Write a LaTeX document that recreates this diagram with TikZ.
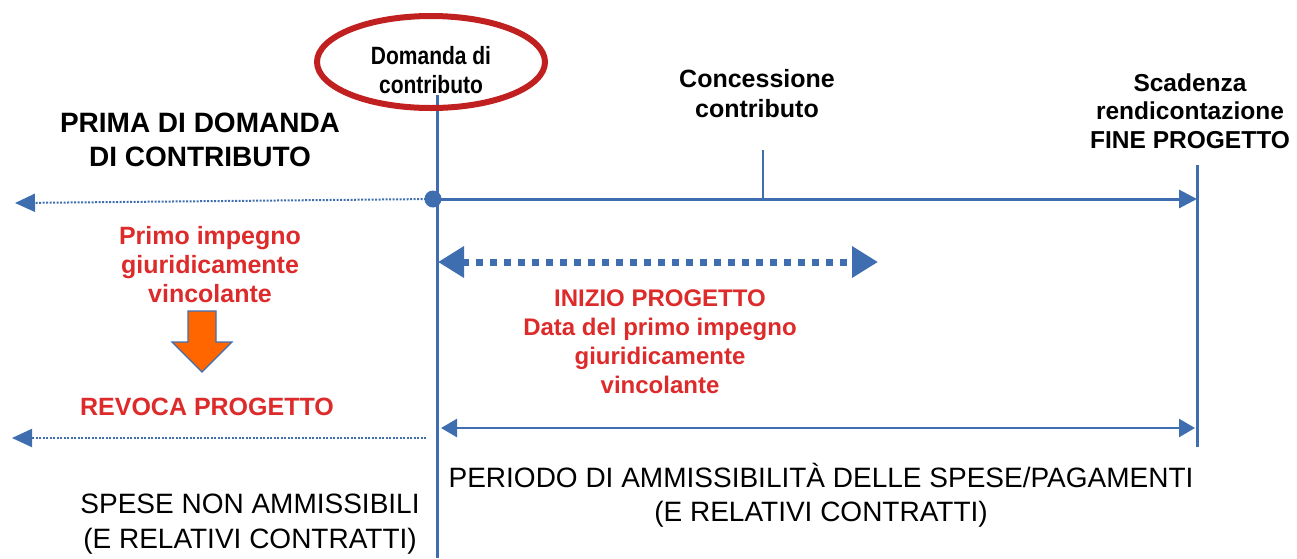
\documentclass[tikz,border=0pt]{standalone}
\usepackage{fontspec}
\setmainfont{Liberation Sans}
\newfontfamily\narrowfont[FakeStretch=0.84]{Liberation Sans}
\usetikzlibrary{arrows.meta,shapes.geometric}
\definecolor{tlblue}{HTML}{3F6EB0}
\definecolor{tlred}{HTML}{DD2A2A}
\definecolor{ellred}{HTML}{C0201F}
\definecolor{orng}{HTML}{FF6600}
\tikzset{
  blk/.style={font=\narrowfont\bfseries\fontsize{25}{29}\selectfont, align=center, text=black, inner sep=0},
  blkw/.style={font=\bfseries\fontsize{25}{30}\selectfont, align=center, text=black, inner sep=0},
  scadstyle/.style={font=\bfseries\fontsize{24.5}{28.5}\selectfont, align=center, text=black, inner sep=0},
  bigblk/.style={font=\bfseries\fontsize{28}{34}\selectfont, align=center, text=black, inner sep=0},
  redtxt/.style={font=\bfseries\fontsize{25}{29}\selectfont, align=center, text=tlred, inner sep=0},
  redn/.style={font=\bfseries\fontsize{24}{29}\selectfont, align=center, text=tlred, inner sep=0},
  plain/.style={font=\fontsize{28}{35}\selectfont, align=center, text=black, inner sep=0},
  plainn/.style={font=\fontsize{28}{34}\selectfont, align=center, text=black, inner sep=0},
  axis/.style={draw=tlblue, line width=3pt},
  dotarrow/.style={draw=tlblue, line width=2pt, dash pattern=on 2pt off 1.5pt, -{Triangle[length=20pt,width=18pt]}},
  solidarrow/.style={draw=tlblue, line width=3pt, -{Triangle[length=18pt,width=18pt]}},
}
\begin{document}
\begin{tikzpicture}[x=1pt,y=-1pt]
\useasboundingbox (0,0) rectangle (1297,558);
% coordinates
\coordinate (vtop) at (437,95);
\coordinate (vbot) at (437,558);
\coordinate (dot) at (433,199);
\coordinate (leftend) at (15,203);
\coordinate (axend) at (1197,199);
\coordinate (ticktop) at (763,150);
\coordinate (tickbot) at (763,199);
\coordinate (rtop) at (1197,165);
\coordinate (rbot) at (1197,447);
\coordinate (dashL) at (438,262);
\coordinate (dashR) at (878,262);
\coordinate (perL) at (441,428);
\coordinate (perR) at (1195,428);
\coordinate (revR) at (426,438);
\coordinate (revL) at (12,438);

% axis lines
\draw[axis] (vtop) -- (vbot);
\draw[axis] (rtop) -- (rbot);
\draw[axis, line width=2.5pt] (ticktop) -- (tickbot);
\draw[solidarrow] (dot) -- (axend);
\draw[dotarrow] (dot) -- (leftend);
\fill[tlblue] (dot) circle (8.5pt);
\draw[tlblue, line width=7pt, dash pattern=on 7pt off 7pt,
  {Triangle[length=26pt,width=30pt]}-{Triangle[length=26pt,width=30pt]}] (dashL) -- (dashR);
\draw[tlblue, line width=2.5pt, {Triangle[length=16pt,width=18pt]}-{Triangle[length=16pt,width=18pt]}] (perL) -- (perR);
\draw[dotarrow] (revR) -- (revL);

% ellipse
\node[draw=ellred, line width=6pt, ellipse, minimum width=228pt, minimum height=92pt, inner sep=0] (ell) at (431,62) {};
\node[blk] (domanda) at (431,70) {Domanda di\\contributo};

\node[bigblk] (prima) at (200,140) {PRIMA DI DOMANDA\\DI CONTRIBUTO};
\node[blkw] (conc) at (757,94) {Concessione\\contributo};
\node[scadstyle] (scad) at (1190,111) {Scadenza\\rendicontazione\\FINE PROGETTO};

\node[redtxt] (primo) at (210,265) {Primo impegno\\giuridicamente\\vincolante};
\node[redtxt] (revoca) at (207,407) {REVOCA PROGETTO};
\node[redn] (inizio) at (660,342) {INIZIO PROGETTO\\Data del primo impegno\\giuridicamente\\vincolante};

\node[plainn] (periodo) at (821,495) {PERIODO DI AMMISSIBILITÀ DELLE SPESE/PAGAMENTI\\(E RELATIVI CONTRATTI)};
\node[plain] (spese) at (250,524) {SPESE NON AMMISSIBILI\\(E RELATIVI CONTRATTI)};

% orange arrow
\filldraw[fill=orng, draw=tlblue, line width=1.2pt]
  (188,311) -- (216,311) -- (216,342) -- (232,342) -- (202,372) -- (172,342) -- (188,342) -- cycle;
\end{tikzpicture}
\end{document}
